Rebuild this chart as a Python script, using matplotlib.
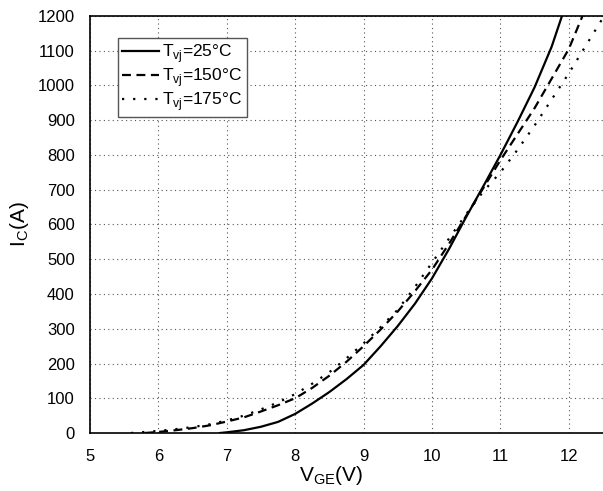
import matplotlib
matplotlib.use("Agg")
import matplotlib.pyplot as plt

plt.rcParams['font.family'] = ['Liberation Sans', 'DejaVu Sans']
plt.rcParams['mathtext.fontset'] = 'custom'
plt.rcParams['mathtext.rm'] = 'Liberation Sans'

v25 = [6.9, 7.0, 7.25, 7.5, 7.75, 8.0, 8.25, 8.5, 8.75, 9.0, 9.25, 9.5, 9.75, 10.0,
       10.25, 10.5, 10.75, 11.0, 11.25, 11.5, 11.75, 11.9]
i25 = [0, 2, 8, 18, 32, 55, 85, 118, 155, 196, 250, 308, 372, 445,
       530, 622, 710, 800, 895, 995, 1112, 1200]

v150 = [5.8, 6.0, 6.25, 6.5, 6.75, 7.0, 7.25, 7.5, 7.75, 8.0, 8.25, 8.5, 8.75, 9.0,
        9.25, 9.5, 9.75, 10.0, 10.25, 10.5, 10.75, 11.0, 11.25, 11.5, 11.75, 12.0, 12.2]
i150 = [0, 3, 8, 14, 22, 33, 45, 62, 80, 100, 130, 165, 205, 250,
        298, 350, 408, 470, 545, 625, 705, 785, 860, 935, 1020, 1105, 1200]

v175 = [5.6, 6.0, 6.25, 6.5, 6.75, 7.0, 7.25, 7.5, 7.75, 8.0, 8.25, 8.5, 8.75, 9.0,
        9.25, 9.5, 9.75, 10.0, 10.25, 10.5, 10.75, 11.0, 11.25, 11.5, 11.75, 12.0, 12.25, 12.5]
i175 = [0, 6, 11, 17, 25, 36, 50, 68, 88, 112, 142, 175, 215, 258,
        305, 355, 420, 490, 560, 630, 695, 750, 815, 885, 960, 1035, 1115, 1195]

labels = [r'T$_{\mathregular{vj}}$=25°C', r'T$_{\mathregular{vj}}$=150°C', r'T$_{\mathregular{vj}}$=175°C']
xticks = [5, 6, 7, 8, 9, 10, 11, 12]
yticks = list(range(0, 1300, 100))

fig = plt.figure(figsize=(6.03, 4.91), dpi=100)
ax = fig.add_axes([90/603, 1-433/491, 1-90/603, (433-16)/491])

ax.plot(v25, i25, color='black', lw=1.6, linestyle='-', label=labels[0])
ax.plot(v150, i150, color='black', lw=1.6, linestyle=(0, (4, 2.5)), label=labels[1])
ax.plot(v175, i175, color='black', lw=1.6, linestyle=(0, (1, 4)), label=labels[2])

ax.set_xlim(5, 12.5)
ax.set_ylim(0, 1200)
ax.set_xticks(xticks)
ax.set_yticks(yticks)
ax.tick_params(length=0, labelsize=12)
ax.tick_params(axis='y', pad=11)
ax.tick_params(axis='x', pad=11.5)
ax.grid(True, color='#555555', linestyle=(0, (1, 3)), lw=0.8)
ax.spines['right'].set_visible(False)
for s in ['left', 'bottom', 'top']:
    ax.spines[s].set_linewidth(1.2)

ax.set_xlabel(r'V$_{\mathregular{GE}}$(V)', fontsize=15, labelpad=0)
ax.xaxis.set_label_coords((331 - 90) / 513, -0.075)
ax.xaxis.label.set_verticalalignment('top')
ax.set_ylabel(r'I$_{\mathregular{C}}$(A)', fontsize=15, labelpad=5)

leg = ax.legend(loc='upper left', bbox_to_anchor=(28/513, 1-22/417), fontsize=12.5,
                frameon=True, fancybox=False, edgecolor='#555555', framealpha=1,
                handlelength=2.1, handletextpad=0.2, borderpad=0.25, labelspacing=0.05,
                borderaxespad=0)
leg.get_frame().set_linewidth(1.0)

fig.savefig('out.png', dpi=100)
